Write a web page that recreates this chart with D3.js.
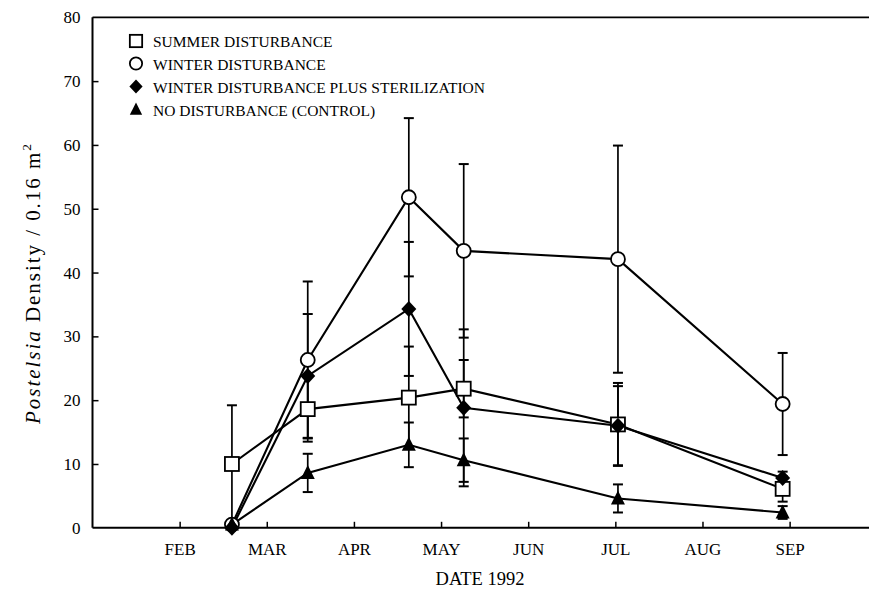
<!DOCTYPE html>
<html><head><meta charset="utf-8">
<script src="https://cdn.jsdelivr.net/npm/d3@7"></script>
<style>body{margin:0;background:#fff}svg{display:block}text{font-family:"Liberation Serif","Times New Roman",serif;fill:#000}</style>
</head><body><svg id="c" width="869" height="595"></svg>
<script>
// sample dates as month number (2 = Feb 1, 3 = Mar 1, ...)
const sampleDates = [2.6, 3.47, 4.63, 5.26, 7.03, 8.92];
const monthTicks = [2, 3, 4, 5, 6, 7, 8, 9];
const monthLabels = ["FEB", "MAR", "APR", "MAY", "JUN", "JUL", "AUG", "SEP"];
const yTicks = [0, 10, 20, 30, 40, 50, 60, 70, 80];

const seriesNames = ["SUMMER DISTURBANCE", "WINTER DISTURBANCE", "WINTER DISTURBANCE PLUS STERILIZATION", "NO DISTURBANCE (CONTROL)"];
const summerVals = [10, 18.6, 20.4, 21.8, 16.2, 6.1];
const summerErr  = [9.2, 5.1, 8.0, 4.5, 6.5, 2.0];
const winterVals = [0.5, 26.3, 51.8, 43.4, 42.1, 19.4];
const winterErr  = [0, 12.3, 12.4, 13.6, 17.8, 8.0];
const sterilVals = [0, 23.8, 34.3, 18.8, 16.0, 7.8];
const sterilErr  = [0, 9.7, 10.5, 12.3, 6.2, 1.0];
const controlVals = [0.5, 8.6, 13.0, 10.6, 4.6, 2.4];
const controlErr  = [0, 3.0, 3.5, 3.4, 2.2, 1.0];

const series = [
  {name: seriesNames[0], vals: summerVals, err: summerErr, shape: "square"},
  {name: seriesNames[1], vals: winterVals, err: winterErr, shape: "circle"},
  {name: seriesNames[2], vals: sterilVals, err: sterilErr, shape: "diamond"},
  {name: seriesNames[3], vals: controlVals, err: controlErr, shape: "triangle"}
];

const svg = d3.select("#c");
const pL = 92.5, pR = 869, pT = 17.3, pB = 527.8;
const x = d3.scaleLinear().domain([1, 1 + (pR - pL) / 87.14]).range([pL, pR]);
const y = d3.scaleLinear().domain([0, 80]).range([pB, pT]);

// frame: left axis, top line, bottom axis
svg.append("line").attr("x1", pL).attr("x2", pR).attr("y1", pT).attr("y2", pT).attr("stroke", "#000").attr("stroke-width", 1.8);

const xAxis = d3.axisBottom(x).tickValues(monthTicks).tickSize(-6).tickPadding(15).tickFormat((d, i) => monthLabels[i]);
const gx = svg.append("g").attr("transform", `translate(0,${pB})`).call(xAxis);
gx.select(".domain").attr("stroke-width", 2).attr("d", `M${pL},0H${pR}`);
gx.selectAll(".tick line").attr("stroke-width", 1.5);
gx.selectAll(".tick text").attr("font-size", 17).attr("font-family", "Liberation Serif");

const yAxis = d3.axisLeft(y).tickValues(yTicks).tickSize(-6).tickPadding(12);
const gy = svg.append("g").attr("transform", `translate(${pL},0)`).call(yAxis);
gy.select(".domain").attr("stroke-width", 2).attr("d", `M0,${pT}V${pB}`);
gy.selectAll(".tick line").attr("stroke-width", 1.5);
gy.selectAll(".tick text").attr("font-size", 17).attr("font-family", "Liberation Serif");
gy.selectAll(".tick").filter(d => d === 0 || d === 80).select("line").remove();

// axis titles
svg.append("text").attr("x", 480).attr("y", 585).attr("text-anchor", "middle").attr("font-size", 18.5).text("DATE 1992");
const yt = svg.append("text").attr("transform", "translate(40,284) rotate(-90)").attr("text-anchor", "middle")
  .attr("font-size", 21).attr("textLength", 280).attr("lengthAdjust", "spacing");
yt.append("tspan").attr("font-style", "italic").text("Postelsia");
yt.append("tspan").text(" Density / 0.16 m");
yt.append("tspan").attr("font-size", 13.5).attr("dy", -9).text("2");

// connecting lines
const line = d3.line().x((d, i) => x(sampleDates[i])).y(d => y(d));
series.forEach(s => {
  svg.append("path").attr("d", line(s.vals)).attr("fill", "none").attr("stroke", "#000").attr("stroke-width", 2.1);
});

// error bars
series.forEach(s => {
  s.vals.forEach((v, i) => {
    const e = s.err[i];
    if (e <= 0) return;
    const cx = x(sampleDates[i]);
    const lo = Math.max(0, v - e), hi = v + e;
    const g = svg.append("g").attr("stroke", "#000");
    g.append("line").attr("x1", cx).attr("x2", cx).attr("y1", y(lo)).attr("y2", y(hi)).attr("stroke-width", 1.7);
    g.append("line").attr("x1", cx - 5).attr("x2", cx + 5).attr("y1", y(hi)).attr("y2", y(hi)).attr("stroke-width", 2);
    if (v - e > 0.3) g.append("line").attr("x1", cx - 5).attr("x2", cx + 5).attr("y1", y(lo)).attr("y2", y(lo)).attr("stroke-width", 2);
  });
});

// markers
function drawMarker(g, shape, cx, cy, sz) {
  const k = sz || 1;
  if (shape === "square") {
    g.append("rect").attr("x", cx - 7 * k).attr("y", cy - 7 * k).attr("width", 14 * k).attr("height", 14 * k).attr("fill", "#fff").attr("stroke", "#000").attr("stroke-width", 1.8);
  } else if (shape === "circle") {
    g.append("circle").attr("cx", cx).attr("cy", cy).attr("r", 7 * k).attr("fill", "#fff").attr("stroke", "#000").attr("stroke-width", 1.8);
  } else if (shape === "diamond") {
    g.append("path").attr("d", `M${cx},${cy - 8 * k}L${cx + 7.5 * k},${cy}L${cx},${cy + 8 * k}L${cx - 7.5 * k},${cy}Z`).attr("fill", "#000");
  } else {
    g.append("path").attr("d", `M${cx},${cy - 8 * k}L${cx + 7 * k},${cy + 6 * k}L${cx - 7 * k},${cy + 6 * k}Z`).attr("fill", "#000");
  }
}
const order = [1, 0, 3, 2];
order.forEach(k => {
  const s = series[k];
  const g = svg.append("g");
  s.vals.forEach((v, i) => drawMarker(g, s.shape, x(sampleDates[i]), y(v)));
});

// legend
const legY = [41, 63.5, 86.5, 109.5];
series.forEach((s, i) => {
  const g = svg.append("g");
  drawMarker(g, s.shape, 136, legY[i], 0.88);
  g.append("text").attr("x", 153).attr("y", legY[i] + 6).attr("font-size", 15.5).text(s.name);
});
</script></body></html>
